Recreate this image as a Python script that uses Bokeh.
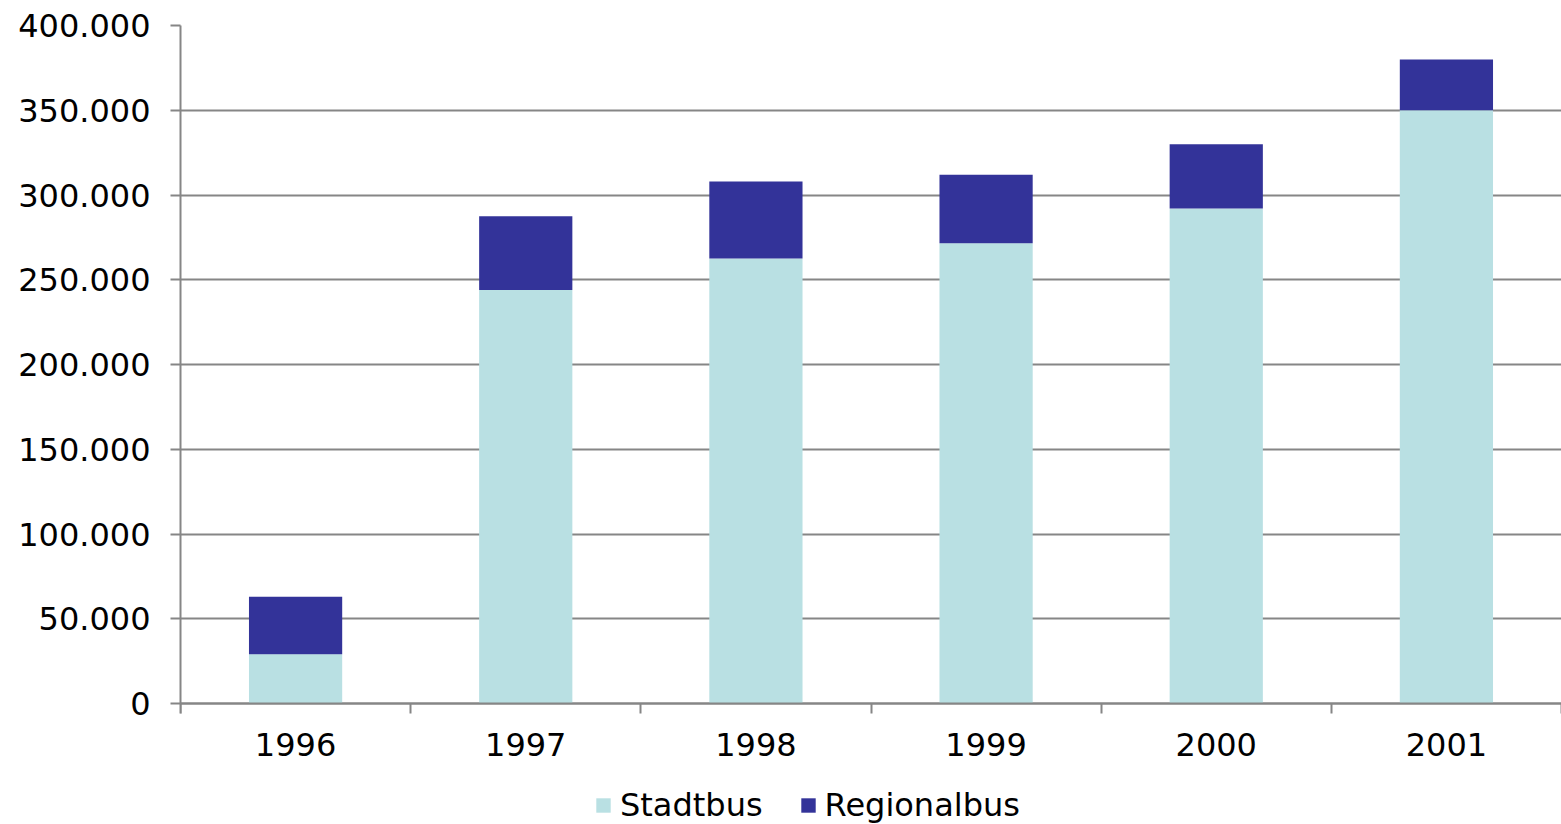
from bokeh.plotting import figure
from bokeh.models import ColumnDataSource, Range1d, FixedTicker, Legend, LegendItem
from bokeh.embed import file_html
from bokeh.resources import INLINE

years = ["1996", "1997", "1998", "1999", "2000", "2001"]
stadtbus = [29000, 244000, 262500, 271500, 292000, 350000]
regionalbus = [34000, 43500, 45500, 40500, 38000, 30000]
y_ticks = [0, 50000, 100000, 150000, 200000, 250000, 300000, 350000, 400000]
y_tick_labels = ["0", "50.000", "100.000", "150.000", "200.000", "250.000", "300.000", "350.000", "400.000"]

FONT = "DejaVu Sans"
GRAY = "#868686"
FS = "32px"

# layout (pixels)
W, H = 1561, 824
LEFT, TOP = 180, 25
PLOT_H = 678          # pixels from value 0 to 400.000
BELOW = H - TOP - PLOT_H
YMAX = 400000
ymin = -BELOW * YMAX / PLOT_H

x = [i + 0.5 for i in range(len(years))]
top1 = stadtbus
top2 = [a + b for a, b in zip(stadtbus, regionalbus)]
src = ColumnDataSource(dict(x=x, b0=[0] * len(x), t1=top1, t2=top2))

p = figure(width=W, height=H, frame_width=W - LEFT, frame_height=H - TOP,
           output_backend="svg", toolbar_location=None,
           x_range=Range1d(0, len(years)), y_range=Range1d(ymin, YMAX),
           min_border_left=LEFT, min_border_right=0, min_border_top=TOP, min_border_bottom=0)
p.outline_line_color = None
p.background_fill_color = "white"
p.border_fill_color = "white"

r1 = p.vbar(x="x", bottom="b0", top="t1", width=0.405, source=src, fill_color="#B9E0E3", line_color=None)
r2 = p.vbar(x="x", bottom="t1", top="t2", width=0.405, source=src, fill_color="#333399", line_color=None)

xa = p.xaxis[0]
xa.fixed_location = 0
xa.ticker = FixedTicker(ticks=x, minor_ticks=list(range(len(years) + 1)))
xa.major_label_overrides = {xv: y for xv, y in zip(x, years)}
xa.major_tick_out = 0
xa.major_tick_in = 0
xa.minor_tick_out = 10
xa.minor_tick_in = 0
xa.minor_tick_line_color = GRAY
xa.minor_tick_line_width = 2
xa.axis_line_color = GRAY
xa.axis_line_width = 2
xa.major_label_text_font = FONT
xa.major_label_text_font_size = FS
xa.major_label_text_color = "black"
xa.major_label_standoff = 19

ya = p.yaxis[0]
ya.ticker = FixedTicker(ticks=y_ticks)
ya.bounds = (-10 * YMAX / PLOT_H, YMAX)
ya.major_label_overrides = {t: l for t, l in zip(y_ticks, y_tick_labels)}
ya.major_tick_out = 10
ya.major_tick_in = 0
ya.major_tick_line_color = GRAY
ya.major_tick_line_width = 2
ya.minor_tick_line_color = None
ya.axis_line_color = GRAY
ya.axis_line_width = 2
ya.major_label_text_font = FONT
ya.major_label_text_font_size = FS
ya.major_label_text_color = "black"
ya.major_label_standoff = 20

p.xgrid.grid_line_color = None
p.ygrid.ticker = FixedTicker(ticks=y_ticks)
p.ygrid.grid_line_color = GRAY
p.ygrid.grid_line_width = 2

legend = Legend(items=[LegendItem(label="Stadtbus", renderers=[r1]),
                       LegendItem(label="Regionalbus", renderers=[r2])],
                orientation="horizontal", location=(414, 0),
                label_text_font=FONT, label_text_font_size=FS, label_text_color="black",
                glyph_width=18, glyph_height=18, label_standoff=8, spacing=36,
                border_line_color=None, background_fill_alpha=0,
                padding=0, margin=0)
p.add_layout(legend, "center")

open("out.html", "w").write(file_html(p, INLINE))
